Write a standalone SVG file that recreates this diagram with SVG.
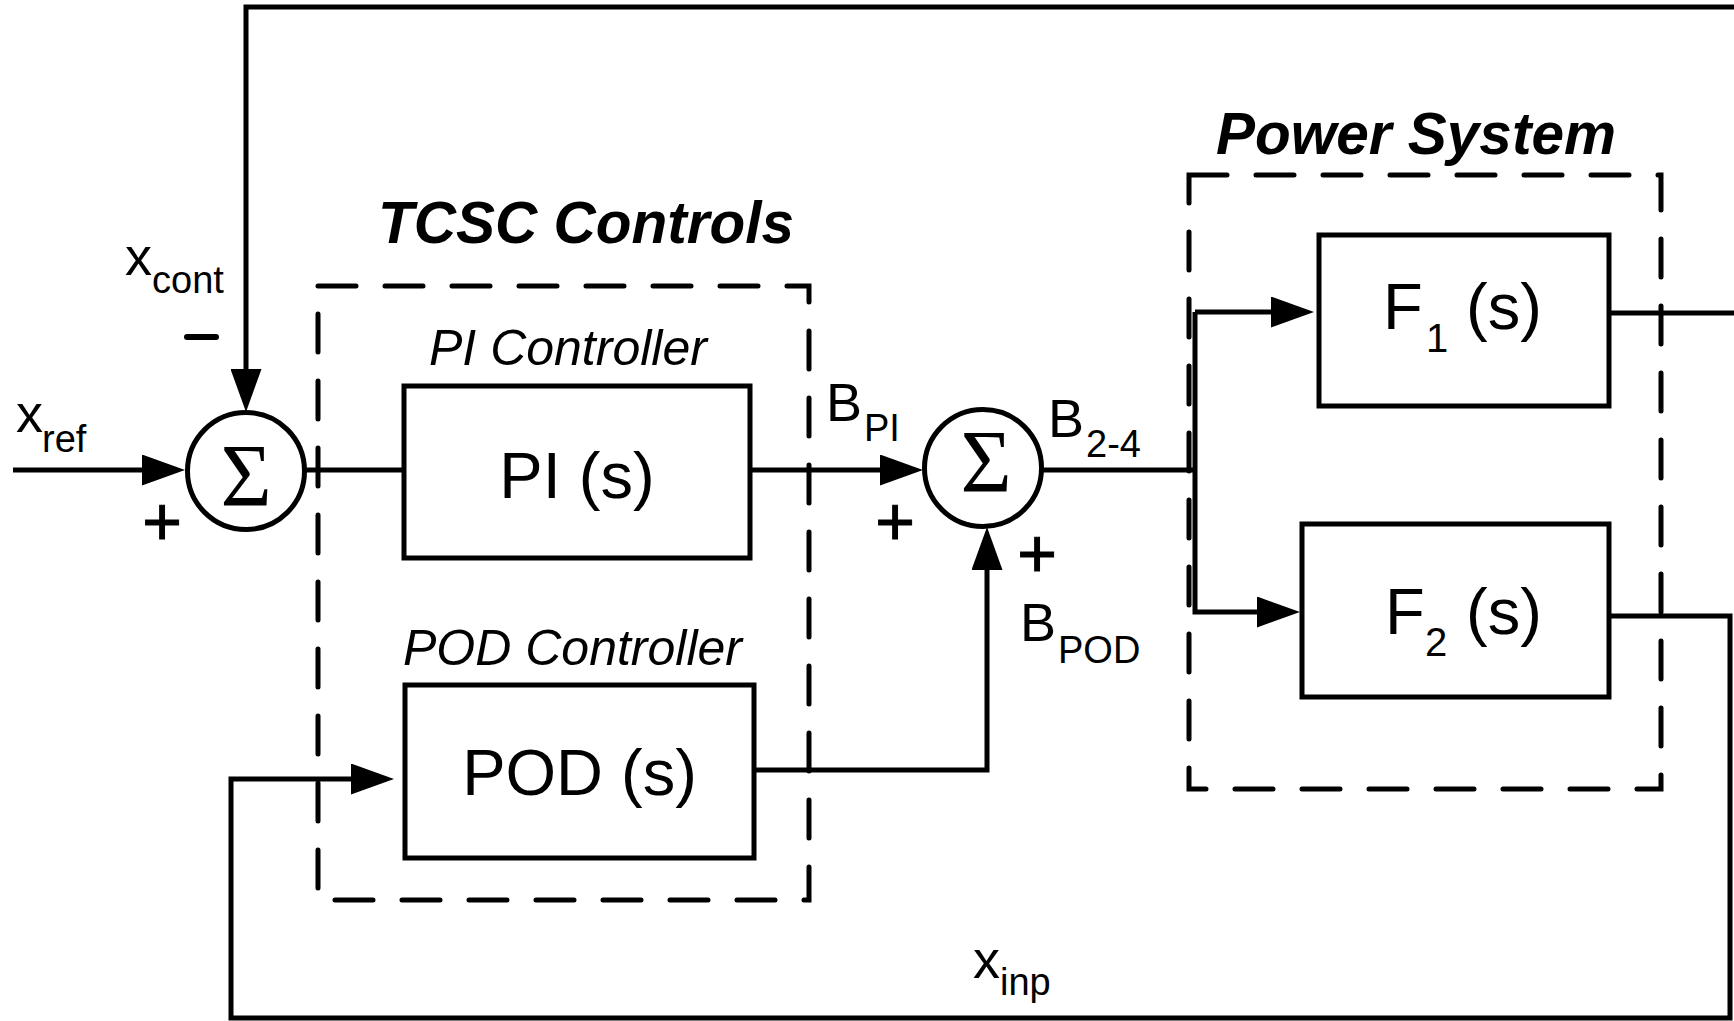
<svg xmlns="http://www.w3.org/2000/svg" width="1734" height="1021" viewBox="0 0 1734 1021">
<style>
.ln{fill:none;stroke:#000;stroke-width:5;stroke-linejoin:miter;stroke-linecap:butt}
.box{fill:#fff;stroke:#000;stroke-width:5}
.dash{fill:none;stroke:#000;stroke-width:5;stroke-dasharray:38 29;stroke-linecap:round}
.sum{fill:#fff;stroke:#000;stroke-width:5}
.t{font-family:"Liberation Sans",Arial,sans-serif;fill:#000}
.big{font-size:65px}
.lab{font-size:54px}
.sub{font-size:38px}
.it{font-family:"Liberation Sans",Arial,sans-serif;font-style:italic;font-size:50px}
.title{font-family:"Liberation Sans",Arial,sans-serif;font-style:italic;font-weight:bold;font-size:58.5px}
.sig{font-family:"Liberation Serif","Times New Roman",serif;font-size:88px;text-anchor:middle}
.pl{font-family:"Liberation Sans",Arial,sans-serif;font-size:68px;text-anchor:middle;stroke:#000;stroke-width:1}
</style>
<defs>
<marker id="arr" viewBox="0 0 43 31" refX="23" refY="15.5" markerWidth="43" markerHeight="31" markerUnits="userSpaceOnUse" orient="auto">
<path d="M0,0 L43,15.5 L0,31 z" fill="#000"/>
</marker>
</defs>
<rect width="1734" height="1021" fill="#fff"/>

<g id="tcsc-group">
<path class="dash" d="M318 286 H809 V900 H318 Z"/>
<text class="title" x="378" y="243">TCSC Controls</text>
</g>
<g id="power-group">
<path class="dash" d="M1189 175 H1661 V789 H1189 Z"/>
<text class="title" x="1216" y="154">Power System</text>
</g>

<g id="connectors">
<path class="ln" d="M1734 7 H246 V392" marker-end="url(#arr)"/>
<path class="ln" d="M13 470 H165" marker-end="url(#arr)"/>
<path class="ln" d="M305 470 H404"/>
<path class="ln" d="M750 470 H903" marker-end="url(#arr)"/>
<path class="ln" d="M754 770 H987 V547" marker-end="url(#arr)"/>
<path class="ln" d="M1041 470 H1195"/>
<path class="ln" d="M1195 312 H1294" marker-end="url(#arr)"/>
<path class="ln" d="M1195 312 V612 H1280" marker-end="url(#arr)"/>
<path class="ln" d="M1609 313 H1734"/>
<path class="ln" d="M1609 616 H1730 V1018 H231 V779 H374" marker-end="url(#arr)"/>
</g>

<g id="sum1">
<circle class="sum" cx="246" cy="471" r="58.5"/>
<text class="sig" x="246" y="505">Σ</text>
</g>
<g id="sum2">
<circle class="sum" cx="983" cy="468" r="58.5"/>
<text class="sig" x="986" y="491">Σ</text>
</g>

<g id="pi-block">
<rect class="box" x="404" y="386" width="346" height="172"/>
<text class="it" x="429" y="365">PI Controller</text>
<text class="t big" x="577" y="498" text-anchor="middle">PI (s)</text>
</g>
<g id="pod-block">
<rect class="box" x="405" y="685" width="349" height="173"/>
<text class="it" x="403" y="665">POD Controller</text>
<text class="t big" x="579.5" y="795" text-anchor="middle">POD (s)</text>
</g>
<g id="f1-block">
<rect class="box" x="1319" y="235" width="290" height="171"/>
<text class="t big" x="1383" y="329">F<tspan font-size="40" x="1426" y="352">1</tspan><tspan x="1466" y="329">(s)</tspan></text>
</g>
<g id="f2-block">
<rect class="box" x="1302" y="524" width="307" height="173"/>
<text class="t big" x="1385" y="634">F<tspan font-size="40" x="1425" y="656">2</tspan><tspan x="1466" y="634">(s)</tspan></text>
</g>

<g id="labels">
<text class="t lab" x="16" y="432">x<tspan class="sub" x="42" y="452">ref</tspan></text>
<text class="t lab" x="125" y="275">x<tspan class="sub" x="152" y="293">cont</tspan></text>
<line x1="187" y1="337" x2="216" y2="337" stroke="#000" stroke-width="6" stroke-linecap="round"/>
<text class="pl" x="162" y="545">+</text>
<text class="pl" x="895" y="545">+</text>
<text class="pl" x="1037" y="577">+</text>
<text class="t lab" x="826" y="421">B<tspan class="sub" x="864" y="441">PI</tspan></text>
<text class="t lab" x="1048" y="437">B<tspan class="sub" x="1086" y="457">2-4</tspan></text>
<text class="t lab" x="1020" y="641">B<tspan class="sub" x="1058" y="663">POD</tspan></text>
<text class="t lab" x="973" y="978">x<tspan class="sub" x="1000" y="995">inp</tspan></text>
</g>
</svg>
